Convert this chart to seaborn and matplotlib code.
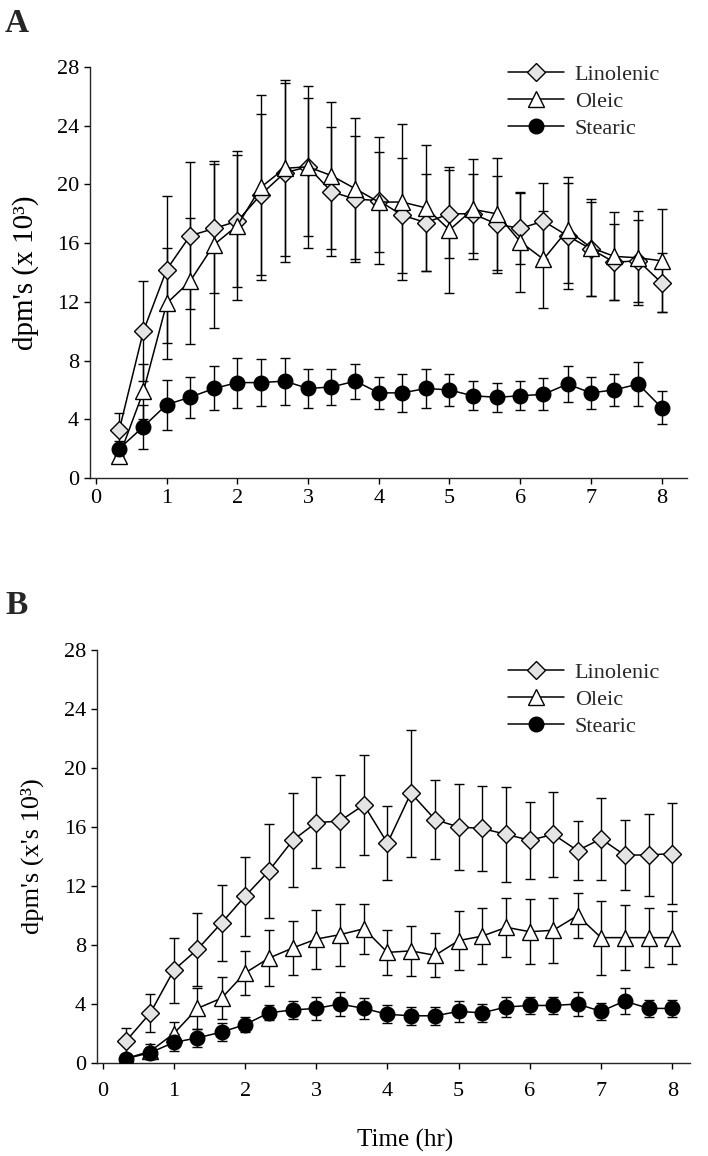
import matplotlib
matplotlib.use("Agg")
import matplotlib.pyplot as plt
import seaborn as sns
import pandas as pd
from matplotlib.lines import Line2D

# ---------------- data ----------------
time_hr = [0.33, 0.67, 1.0, 1.33, 1.67, 2.0, 2.33, 2.67, 3.0, 3.33, 3.67, 4.0,
           4.33, 4.67, 5.0, 5.33, 5.67, 6.0, 6.33, 6.67, 7.0, 7.33, 7.67, 8.0]

# Panel A
lin_A = [3.3, 10.0, 14.2, 16.5, 17.0, 17.5, 19.3, 20.8, 21.2, 19.5, 19.0, 18.9,
         17.9, 17.4, 18.0, 18.0, 17.3, 17.0, 17.5, 16.5, 15.6, 14.7, 14.8, 13.3]
lin_A_err = [1.1, 3.4, 5.0, 5.0, 4.4, 4.5, 5.5, 6.1, 4.7, 4.4, 4.3, 4.3,
             3.9, 3.3, 3.0, 2.7, 3.3, 2.4, 2.6, 3.6, 3.2, 2.6, 2.8, 2.0]
ole_A = [1.5, 5.9, 11.9, 13.4, 15.9, 17.2, 19.8, 21.1, 21.2, 20.6, 19.7, 18.8,
         18.8, 18.4, 16.9, 18.3, 18.0, 16.1, 14.9, 16.9, 15.7, 15.1, 15.0, 14.8]
ole_A_err = [0.5, 1.9, 3.8, 4.3, 5.7, 5.1, 6.3, 6.0, 5.5, 5.0, 4.8, 3.4,
             5.3, 4.3, 4.3, 3.4, 3.8, 3.4, 3.3, 3.6, 3.3, 3.0, 3.2, 3.5]
ste_A = [2.0, 3.5, 5.0, 5.5, 6.1, 6.5, 6.5, 6.6, 6.1, 6.2, 6.6, 5.8,
         5.8, 6.1, 6.0, 5.6, 5.5, 5.6, 5.7, 6.4, 5.8, 6.0, 6.4, 4.8]
ste_A_err = [0.5, 1.5, 1.7, 1.4, 1.5, 1.7, 1.6, 1.6, 1.3, 1.2, 1.2, 1.1,
             1.3, 1.3, 1.1, 1.0, 1.0, 1.0, 1.1, 1.2, 1.1, 1.1, 1.5, 1.1]

# Panel B
lin_B = [1.5, 3.4, 6.3, 7.7, 9.5, 11.3, 13.0, 15.1, 16.3, 16.4, 17.5, 14.9,
         18.3, 16.5, 16.0, 15.9, 15.5, 15.1, 15.5, 14.4, 15.2, 14.1, 14.1, 14.2]
lin_B_err = [0.9, 1.3, 2.2, 2.5, 2.6, 2.7, 3.2, 3.2, 3.1, 3.1, 3.4, 2.5,
             4.3, 2.7, 2.9, 2.9, 3.2, 2.6, 2.9, 2.0, 2.8, 2.4, 2.8, 3.4]
ole_B = [0.3, 0.8, 2.0, 3.7, 4.4, 6.1, 7.1, 7.8, 8.4, 8.7, 9.1, 7.5,
         7.6, 7.3, 8.3, 8.6, 9.2, 8.9, 9.0, 10.0, 8.5, 8.5, 8.5, 8.5]
ole_B_err = [0.2, 0.5, 0.8, 1.4, 1.4, 1.5, 1.9, 1.8, 2.0, 2.1, 1.7, 1.5,
             1.7, 1.5, 2.0, 1.9, 2.0, 2.2, 2.2, 1.5, 2.5, 2.2, 2.0, 1.8]
ste_B = [0.3, 0.7, 1.4, 1.7, 2.1, 2.6, 3.4, 3.6, 3.7, 4.0, 3.7, 3.3,
         3.2, 3.2, 3.5, 3.4, 3.8, 3.9, 3.9, 4.0, 3.5, 4.2, 3.7, 3.7]
ste_B_err = [0.3, 0.4, 0.6, 0.6, 0.6, 0.5, 0.5, 0.6, 0.8, 0.8, 0.7, 0.6,
             0.6, 0.6, 0.7, 0.6, 0.7, 0.6, 0.6, 0.8, 0.6, 0.9, 0.6, 0.6]

series_names = ["Linolenic", "Oleic", "Stearic"]
y_ticks = [0, 4, 8, 12, 16, 20, 24, 28]
x_ticks = [0, 1, 2, 3, 4, 5, 6, 7, 8]
ylabel_A = "dpm's (x 10³)"
ylabel_B = "dpm's (x's 10³)"
xlabel_B = "Time (hr)"

# ---------------- style ----------------
sns.set_theme(style="ticks")
plt.rcParams["font.family"] = ["Liberation Serif", "DejaVu Serif"]
plt.rcParams["axes.linewidth"] = 1.0
plt.rcParams["xtick.major.width"] = 1.0
plt.rcParams["ytick.major.width"] = 1.0
plt.rcParams["xtick.major.size"] = 4
plt.rcParams["ytick.major.size"] = 4
plt.rcParams["xtick.direction"] = "out"
plt.rcParams["ytick.direction"] = "out"

styles = {
    "Linolenic": dict(marker="D", markerfacecolor="#e4e4e4", markersize=9),
    "Oleic": dict(marker="^", markerfacecolor="white", markersize=11),
    "Stearic": dict(marker="o", markerfacecolor="black", markersize=10.5),
}

fig = plt.figure(figsize=(7.08, 11.56), dpi=100)
W, H = 708, 1156


def axes_px(left, top, right, bottom):
    return fig.add_axes([left / W, 1 - bottom / H, (right - left) / W, (bottom - top) / H])


axA = axes_px(90, 67, 687, 478)
axB = axes_px(97, 650, 690, 1063)


def draw_panel(ax, vals, errs, xlim, ylabel, ylabel_size, ylabel_x, legend_anchor, tick_pad):
    df = pd.DataFrame({
        "time": time_hr * 3,
        "value": vals[0] + vals[1] + vals[2],
        "acid": [n for n in series_names for _ in time_hr],
    })
    for i, name in enumerate(series_names):
        ax.errorbar(time_hr, vals[i], yerr=errs[i], fmt="none", ecolor="black",
                    elinewidth=1.0, capsize=3.5, capthick=1.0, zorder=1)
    for name in series_names:
        sub = df[df["acid"] == name]
        sns.lineplot(data=sub, x="time", y="value", ax=ax, color="black",
                     linewidth=1.1, markeredgecolor="black", markeredgewidth=1.0,
                     zorder=3, legend=False, **styles[name])
    ax.set_xlim(*xlim)
    ax.set_ylim(0, 28)
    ax.set_xticks(x_ticks)
    ax.set_yticks(y_ticks)
    ax.tick_params(axis="y", labelsize=16, colors="black", pad=4)
    ax.tick_params(axis="x", labelsize=16, colors="black", pad=tick_pad)
    ax.set_ylabel(ylabel, fontsize=ylabel_size, color="black")
    ax.yaxis.set_label_coords(ylabel_x, 0.5)
    ax.set_xlabel("")
    sns.despine(ax=ax)
    handles = [Line2D([0], [0], color="black", linewidth=1.1, markeredgecolor="black",
                      markeredgewidth=1.0, **styles[n]) for n in series_names]
    fig.legend(handles, series_names, loc="upper left",
               bbox_to_anchor=(legend_anchor[0] / W, 1 - legend_anchor[1] / H),
               frameon=False, fontsize=16, handlelength=2.5, handletextpad=0.5,
               labelspacing=0.3, borderpad=0, borderaxespad=0)


draw_panel(axA, [lin_A, ole_A, ste_A], [lin_A_err, ole_A_err, ste_A_err],
           (-0.085, 8.36), ylabel_A, 21, -0.085, (508, 64), 4)
draw_panel(axB, [lin_B, ole_B, ste_B], [lin_B_err, ole_B_err, ste_B_err],
           (-0.08, 8.25), ylabel_B, 19, -0.09, (508, 662), 10)

axB.set_xlabel(xlabel_B, fontsize=18, color="black")
axB.xaxis.set_label_coords(0.52, -0.16)

fig.text(5 / W, 1 - 23 / H, "A", fontsize=24, fontweight="bold", va="center", ha="left")
fig.text(5 / W, 1 - 606 / H, "B", fontsize=24, fontweight="bold", va="center", ha="left")

fig.savefig("out.png", dpi=100, facecolor="white")
